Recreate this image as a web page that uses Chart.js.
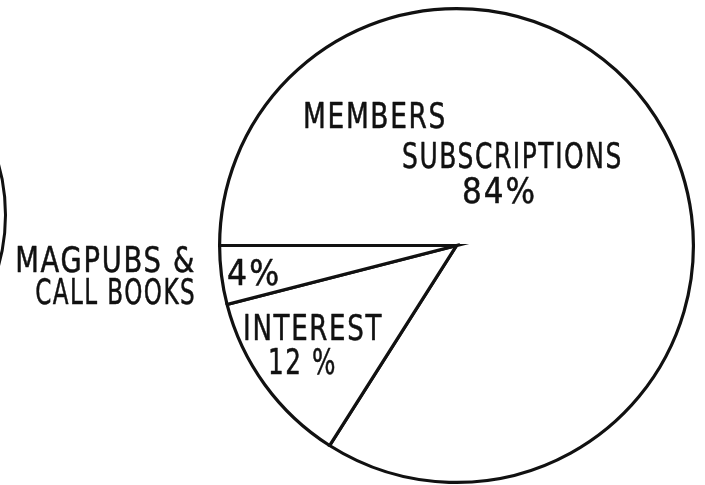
<!DOCTYPE html>
<html>
<head>
<meta charset="utf-8">
<script src="https://cdn.jsdelivr.net/npm/chart.js@4/dist/chart.umd.min.js"></script>
<style>
  html, body { margin: 0; padding: 0; background: #fff; }
  #wrap { position: relative; width: 705px; height: 485px; overflow: hidden; background: #fff; }
  #income { position: absolute; left: 0; top: 0; }
  #prior { position: absolute; left: -377px; top: 23px; }
</style>
</head>
<body>
<div id="wrap">
  <canvas id="prior" width="384" height="384"></canvas>
  <canvas id="income" width="705" height="485"></canvas>
</div>
<script>
// Income sources, percent of total
const categories = ['MEMBERS SUBSCRIPTIONS', 'INTEREST', 'MAGPUBS & CALL BOOKS'];
const shares = [84, 12, 4];
const shareLabels = ['84%', '12 %', '4%'];

// Neighbouring pie, only its rim shows at the left edge
const priorShares = [100];

const INK = '#111';
const FONT = '"Liberation Sans Narrow", "DejaVu Sans Condensed", "Arial Narrow", sans-serif';

// Text lines placed relative to the pie centre, in pixels at a 237px radius;
// w is the line's set width (narrow lettering)
const textLayout = [
  { text: 'MEMBERS',       dx: -153.5, dy: -117.5, w: 144, align: 'left' },
  { text: 'SUBSCRIPTIONS', dx: -54.5,  dy: -77.5,  w: 221, align: 'left' },
  { share: 0,              dx: 5.5,    dy: -42.5,  w: 75,  align: 'left' },
  { text: 'INTEREST',      dx: -213.5, dy: 94.5,   w: 140, align: 'left' },
  { share: 1,              dx: -188.5, dy: 128.5,  w: 69,  align: 'left' },
  { share: 2,              dx: -229.5, dy: 39.5,   w: 55,  align: 'left' },
  { text: 'MAGPUBS &',     dx: -260.5, dy: 26.5,   w: 181, align: 'right' },
  { text: 'CALL BOOKS',    dx: -260.5, dy: 58.5,   w: 161, align: 'right' }
];

const sliceText = {
  id: 'sliceText',
  afterDatasetsDraw(chart) {
    const arc = chart.getDatasetMeta(0).data[0];
    if (!arc) return;
    const { x, y, outerRadius } = arc.getProps(['x', 'y', 'outerRadius'], true);
    const k = outerRadius / 237;
    const ctx = chart.ctx;
    ctx.save();
    ctx.fillStyle = INK;
    ctx.strokeStyle = INK;
    ctx.lineWidth = 0.5;
    ctx.lineJoin = 'round';
    ctx.font = '35px ' + FONT;
    ctx.textBaseline = 'alphabetic';
    try { ctx.letterSpacing = '2px'; } catch (e) {}
    textLayout.forEach(t => {
      const s = t.text !== undefined ? t.text : shareLabels[t.share];
      ctx.textAlign = t.align;
      ctx.fillText(s, x + t.dx * k, y + t.dy * k, t.w * k);
      ctx.strokeText(s, x + t.dx * k, y + t.dy * k, t.w * k);
    });
    ctx.restore();
  }
};

new Chart(document.getElementById('income'), {
  type: 'pie',
  data: {
    labels: categories,
    datasets: [{
      data: shares,
      backgroundColor: '#fff',
      borderColor: INK,
      borderWidth: 3.2,
      borderJoinStyle: 'miter',
      hoverOffset: 0
    }]
  },
  options: {
    responsive: false,
    animation: false,
    devicePixelRatio: 1,
    rotation: 270,
    layout: { padding: { left: 217, right: 9, top: 7, bottom: 1 } },
    plugins: { legend: { display: false }, tooltip: { enabled: false } },
    events: []
  },
  plugins: [sliceText]
});

new Chart(document.getElementById('prior'), {
  type: 'pie',
  data: {
    labels: ['prior'],
    datasets: [{
      data: priorShares,
      backgroundColor: '#fff',
      borderColor: INK,
      borderWidth: 3,
      hoverOffset: 0
    }]
  },
  options: {
    responsive: false,
    animation: false,
    devicePixelRatio: 1,
    plugins: { legend: { display: false }, tooltip: { enabled: false } },
    events: []
  }
});
</script>
</body>
</html>
